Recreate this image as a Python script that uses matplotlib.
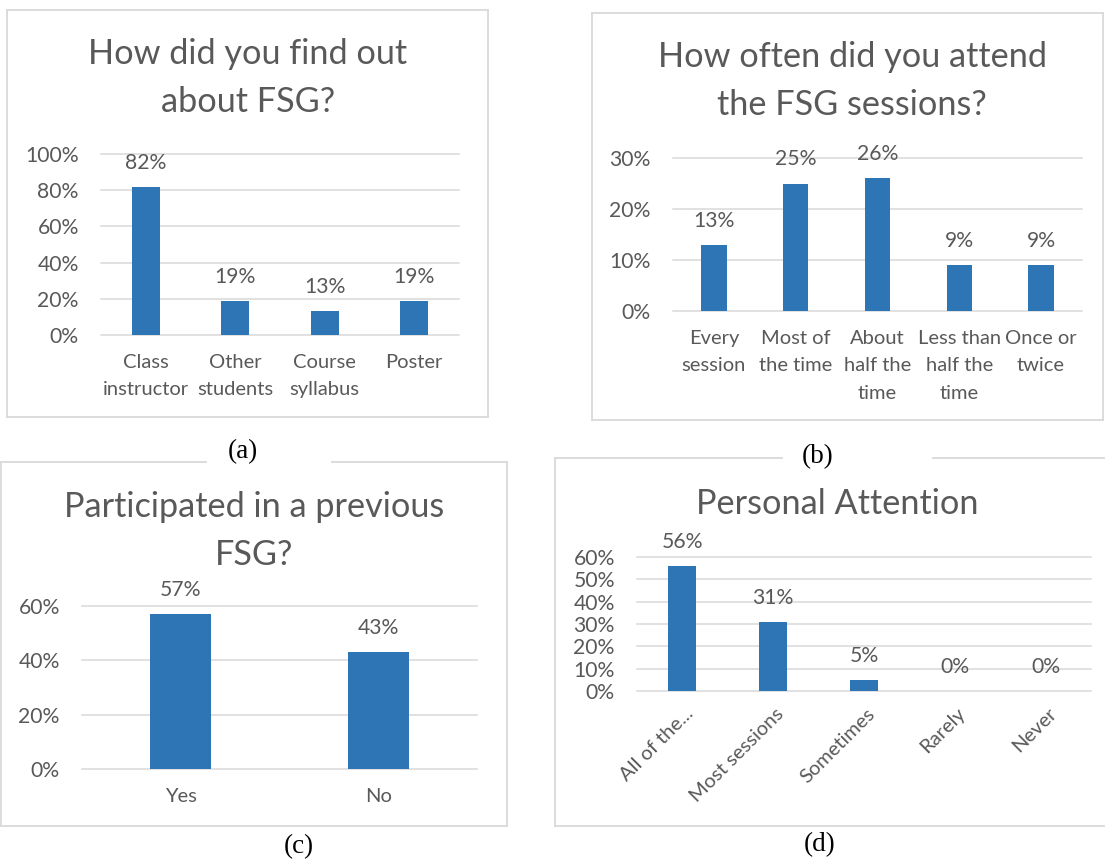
import matplotlib.pyplot as plt
import matplotlib.transforms as mtransforms
from matplotlib.lines import Line2D

# figure size in pixels (dpi 100)
W, H = 1105, 861

# (a) How did you find out about FSG?
find_cats = ['Class\ninstructor', 'Other\nstudents', 'Course\nsyllabus', 'Poster']
find_vals = [82, 19, 13, 19]

# (b) How often did you attend the FSG sessions?
attend_cats = ['Every\nsession', 'Most of\nthe time', 'About\nhalf the\ntime',
               'Less than\nhalf the\ntime', 'Once or\ntwice']
attend_vals = [13, 25, 26, 9, 9]

# (c) Participated in a previous FSG?
prev_cats = ['Yes', 'No']
prev_vals = [57, 43]

# (d) Personal Attention
attn_cats = ['All of the...', 'Most sessions', 'Sometimes', 'Rarely', 'Never']
attn_vals = [56, 31, 5, 0, 0]

BAR = '#2E75B6'
TXT = '#595959'
GRID = '#D9D9D9'
CAT_FS = 14.5    # category labels
NUM_FS = 15.2    # percent labels (axis + data)
TITLE_FS = 24.7

plt.rcParams['font.family'] = ['Lato', 'DejaVu Sans']

fig = plt.figure(figsize=(W / 100, H / 100), dpi=100)


def px_axes(x0, x1, y0, y1):
    # axes from pixel box (y measured from the top)
    return fig.add_axes([x0 / W, 1 - y1 / H, (x1 - x0) / W, (y1 - y0) / H])


def fig_line(x0, x1, y0, y1):
    fig.add_artist(Line2D([x0 / W, x1 / W], [1 - y0 / H, 1 - y1 / H],
                          transform=fig.transFigure, color=GRID, lw=1.3))


def bar_panel(ax, cats, vals, ymax, step):
    xs = range(len(cats))
    ax.bar(xs, vals, width=0.31, color=BAR, zorder=2)
    for x, v in zip(xs, vals):
        ax.annotate(f'{v}%', (x, v), xytext=(0, 13), textcoords='offset points',
                    ha='center', va='baseline', fontsize=NUM_FS, color=TXT)
    ax.set_xlim(-0.5, len(cats) - 0.5)
    ax.set_ylim(0, ymax)
    ax.set_yticks(range(0, ymax + 1, step))
    ax.set_yticklabels([f'{t}%' for t in range(0, ymax + 1, step)], fontsize=NUM_FS)
    ax.set_xticks(list(xs))
    ax.set_xticklabels(cats, linespacing=1.75, fontsize=CAT_FS)
    ax.tick_params(axis='both', length=0, labelcolor=TXT)
    ax.tick_params(axis='y', pad=16)
    ax.tick_params(axis='x', pad=13.5)
    for s in ax.spines.values():
        s.set_visible(False)
    ax.yaxis.grid(True, color=GRID, lw=1.1)
    for gl in ax.get_ygridlines():
        gl.set_clip_on(False)
    ax.set_axisbelow(True)


# panel frames (light grey boxes)
# (a)
fig_line(7, 488, 10, 10); fig_line(7, 488, 417, 417)
fig_line(7, 7, 10, 417); fig_line(488, 488, 10, 417)
# (b)
fig_line(592, 1103, 13, 13); fig_line(592, 1103, 420, 420)
fig_line(592, 592, 13, 420); fig_line(1103, 1103, 13, 420)
# (c) - top edge broken around caption (a)
fig_line(1, 206, 462, 462); fig_line(332, 507, 462, 462)
fig_line(1, 507, 826, 826)
fig_line(1, 1, 462, 826); fig_line(507, 507, 462, 826)
# (d) - top edge broken around caption (b)
fig_line(555, 782, 458, 458); fig_line(933, 1105, 458, 458)
fig_line(555, 1105, 826, 826)
fig_line(555, 555, 458, 826)

# (a)
ax_a = px_axes(101, 459, 154, 335)
bar_panel(ax_a, find_cats, find_vals, 100, 20)
fig.text(248 / W, 1 - 38 / H, 'How did you find out\nabout FSG?', ha='center', va='top',
         fontsize=TITLE_FS, color=TXT, linespacing=1.6)

# (b)
ax_b = px_axes(673, 1082, 158, 311)
bar_panel(ax_b, attend_cats, attend_vals, 30, 10)
fig.text(852 / W, 1 - 41 / H, 'How often did you attend\nthe FSG sessions?', ha='center',
         va='top', fontsize=TITLE_FS, color=TXT, linespacing=1.6)

# (c)
ax_c = px_axes(82, 477, 606, 769)
bar_panel(ax_c, prev_cats, prev_vals, 60, 20)
fig.text(254 / W, 1 - 491 / H, 'Participated in a previous\nFSG?', ha='center', va='top',
         fontsize=TITLE_FS, color=TXT, linespacing=1.6)

# (d)
ax_d = px_axes(637, 1091, 557, 691)
bar_panel(ax_d, attn_cats, attn_vals, 60, 10)
ax_d.set_xticklabels(attn_cats, rotation=45, ha='right', va='top', rotation_mode='anchor',
                     fontsize=CAT_FS)
ax_d.tick_params(axis='x', pad=10)
shift = mtransforms.ScaledTranslation(2 / 100, 0, fig.dpi_scale_trans)
for lbl in ax_d.get_xticklabels():
    lbl.set_transform(lbl.get_transform() + shift)
fig.text(837 / W, 1 - 488 / H, 'Personal Attention', ha='center', va='top',
         fontsize=TITLE_FS, color=TXT)

# captions
for cx, cy, cap in [(243, 452, '(a)'), (818, 457, '(b)'), (299, 847, '(c)'), (820, 845, '(d)')]:
    fig.text(cx / W, 1 - cy / H, cap, ha='center', va='center', fontsize=19.5,
             family='Liberation Serif', color='black')

fig.savefig('out.png', dpi=100, facecolor='white')
